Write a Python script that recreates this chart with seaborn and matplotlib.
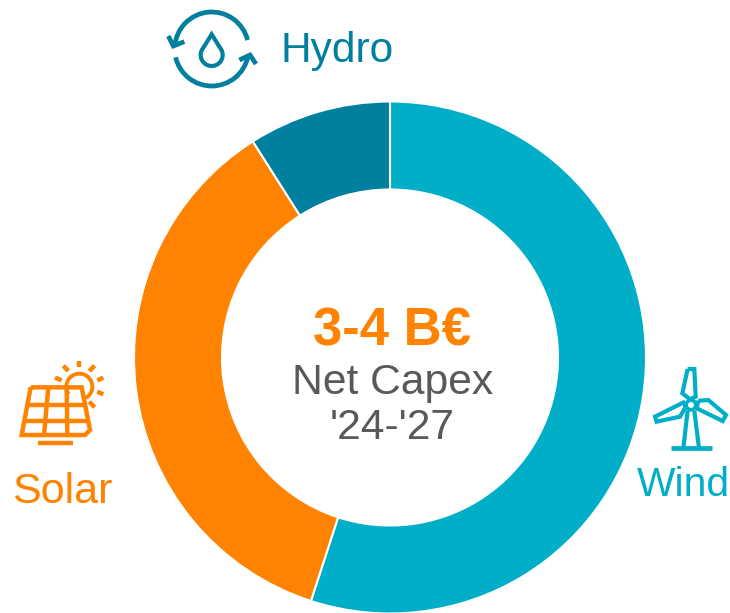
import numpy as np
import matplotlib
matplotlib.use("Agg")
import matplotlib.pyplot as plt
from matplotlib.patches import Arc, Circle
import seaborn as sns

sns.set_theme(style="white")
plt.rcParams['font.family'] = ['Liberation Sans', 'DejaVu Sans']

categories = ["Wind", "Solar", "Hydro"]
shares = [55, 36, 9]
palette = sns.color_palette(["#00AEC7", "#FF8200", "#007F9F"])
headline = "3-4 B€"
subtitle = ["Net Capex", "'24-'27"]
GREY = "#595959"
W, H = 730, 613

fig = plt.figure(figsize=(W / 100, H / 100), dpi=100, facecolor="white")
cx, cy, R, r = 390, 357.5, 256, 168
ax = fig.add_axes([(cx - R) / W, (H - cy - R) / H, 2 * R / W, 2 * R / H])
ax.pie(shares, colors=palette, startangle=90, counterclock=False, radius=1,
       wedgeprops=dict(width=1 - r / R, edgecolor="white", linewidth=1.5))
ax.set_xlim(-1, 1); ax.set_ylim(-1, 1); ax.axis("off")
for p in ax.patches:
    p.set_clip_on(False)

ov = fig.add_axes([0, 0, 1, 1]); ov.set_xlim(0, W); ov.set_ylim(H, 0); ov.axis("off")
ov.patch.set_alpha(0)

ov.text(392, 331, headline, color=palette[1], fontsize=38, fontweight="bold", ha="center", va="center")
ov.text(392.5, 383, subtitle[0], color=GREY, fontsize=30.7, ha="center", va="center")
ov.text(392, 428, subtitle[1], color=GREY, fontsize=30.7, ha="center", va="center")
ov.text(280, 51, categories[2], color=palette[2], fontsize=30.5, ha="left", va="center")
ov.text(12, 492, categories[1], color=palette[1], fontsize=31, ha="left", va="center")
ov.text(636.5, 485, categories[0], color=palette[0], fontsize=29.3, ha="left", va="center")

def zm(pts, x0, y0):
    return [(x0 + a / 3, y0 + b / 3) for a, b in pts]

def line(pts, x0, y0, c, lw=3.0, closed=False):
    q = zm(pts, x0, y0)
    if closed:
        q = q + [q[0]]
    ov.plot(*zip(*q), color=c, lw=lw, solid_capstyle="butt", solid_joinstyle="miter")

# hydro icon
c = palette[2]; hx, hy = 150, 0
ov.add_patch(Arc((211.7, 49), 74, 74, theta1=184, theta2=346, color=c, lw=3.4))
ov.add_patch(Arc((211.7, 49), 74, 74, theta1=12, theta2=167, color=c, lw=3.4))
line([(55, 108), (70, 138), (103, 125)], hx, hy, c, lw=3.4)
line([(268, 180), (300, 165), (318, 192)], hx, hy, c, lw=3.4)
t = np.radians(np.linspace(-40, 220, 40))
drop = [(185 + 33 * np.cos(a), 165 + 33 * np.sin(a)) for a in t] + [(185, 103)]
line(drop, hx, hy, c, lw=3.0, closed=True)

# solar icon
c = palette[1]; sx, sy = 10, 355
ov.add_patch(Arc((10 + 208 / 3, 355 + 95 / 3), 26, 26, theta1=-215, theta2=60, color=c, lw=2.8))
line([(62, 97), (215, 97), (240, 225), (225, 240), (35, 240)], sx, sy, c, lw=3.2, closed=True)
line([(50, 150), (222, 150)], sx, sy, c, lw=3.2)
line([(42, 197), (232, 197)], sx, sy, c, lw=3.2)
line([(115, 97), (102, 240)], sx, sy, c, lw=3.2)
line([(170, 97), (172, 240)], sx, sy, c, lw=3.2)
line([(85, 265), (188, 265)], sx, sy, c, lw=3.2)
for a, b in [((135, 68), (155, 76)), ((160, 32), (175, 48)), ((207, 17), (207, 36)),
             ((254, 32), (238, 48)), ((280, 68), (262, 76)), ((280, 118), (262, 110)),
             ((254, 157), (238, 140))]:
    line([a, b], sx, sy, c, lw=3.2)

# wind icon
c = palette[0]; wx, wy = 640, 360
ov.add_patch(Circle((640 + 153 / 3, 360 + 135 / 3), 4.8, fill=False, ec=c, lw=2.6))
line([(143, 27), (163, 27), (167, 110), (150, 118), (127, 100)], wx, wy, c, closed=True)
line([(175, 122), (205, 120), (258, 165), (248, 183), (170, 145)], wx, wy, c, closed=True)
line([(135, 125), (45, 170), (50, 185), (120, 170), (135, 145)], wx, wy, c, closed=True)
line([(143, 152), (130, 265)], wx, wy, c)
line([(163, 152), (177, 265)], wx, wy, c)
line([(92, 265), (215, 265)], wx, wy, c, lw=3.4)

fig.savefig("out.png", dpi=100, facecolor="white")
